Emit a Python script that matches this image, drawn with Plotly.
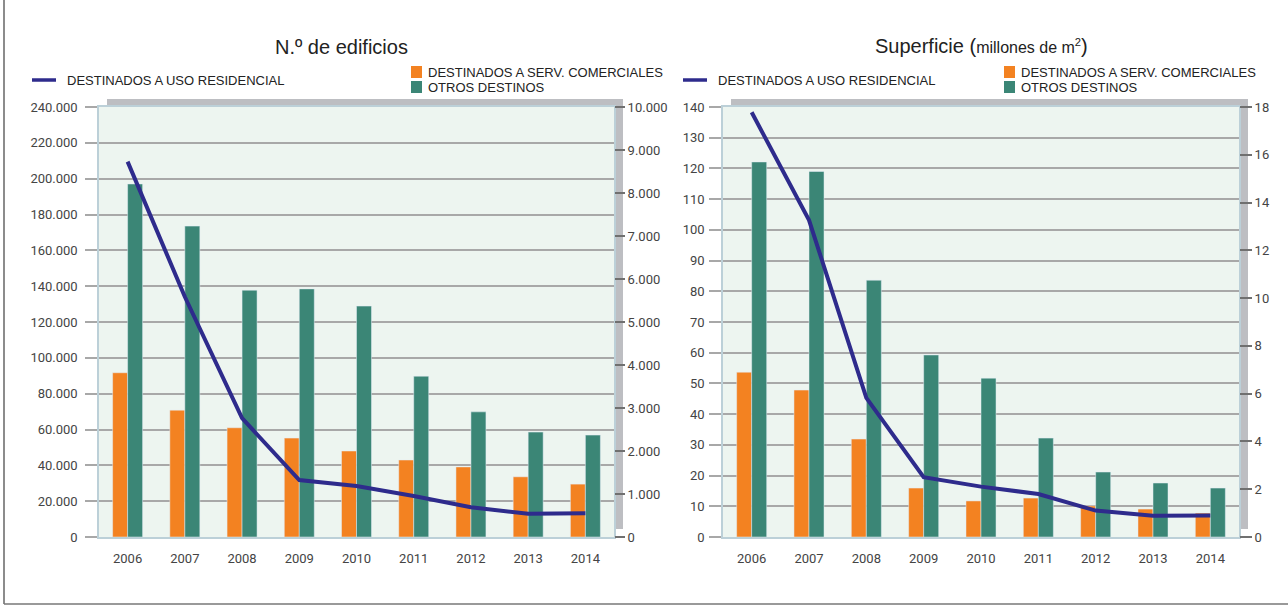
import plotly.graph_objects as go

# ---------------- data ----------------
years = ["2006", "2007", "2008", "2009", "2010", "2011", "2012", "2013", "2014"]

# N.º de edificios
edif_residencial = [209500, 134100, 66300, 31800, 28500, 22900, 16600, 13000, 13200]
edif_comerciales = [3820, 2950, 2540, 2300, 2000, 1790, 1630, 1400, 1230]
edif_otros = [8210, 7230, 5740, 5770, 5370, 3740, 2910, 2440, 2370]

# Superficie (millones de m2)
sup_residencial = [138.3, 103.2, 45.3, 19.5, 16.4, 14.0, 8.6, 6.9, 7.0]
sup_comerciales = [6.9, 6.15, 4.1, 2.05, 1.51, 1.63, 1.30, 1.17, 1.0]
sup_otros = [15.7, 15.3, 10.75, 7.62, 6.65, 4.14, 2.72, 2.26, 2.05]

edif_left_ticks = list(range(0, 240001, 20000))
edif_right_ticks = list(range(0, 10001, 1000))
sup_left_ticks = list(range(0, 141, 10))
sup_right_ticks = list(range(0, 19, 2))

title_left = "N.º de edificios"
title_right = "Superficie (<span style='font-size:16px'>millones de m<sup>2</sup></span>)"
lbl_res = "DESTINADOS A USO RESIDENCIAL"
lbl_com = "DESTINADOS A SERV. COMERCIALES"
lbl_otr = "OTROS DESTINOS"

# ---------------- style ----------------
W, H = 1288, 606
C_LINE = "#2E2B8C"
C_ORANGE = "#F38221"
C_GREEN = "#3B8676"
C_BG = "#EDF5F0"
C_GRID = "#A8A8A8"
C_BORDER = "#BCD0D8"
C_SHADOW = "#BDBEC2"
TICKFONT = dict(family="Roboto, Liberation Sans, sans-serif", size=13, color="#444444")
TXTFONT = dict(family="Liberation Sans, Arial, sans-serif", size=13, color="#222222")


def px(x):
    return x / W


def py(y):
    return 1 - y / H


PLOT_TOP, PLOT_BOT = 107, 537
L_X0, L_X1 = 99, 614
R_X0, R_X1 = 723, 1239

fig = go.Figure()

# left subplot: bars on y (right side), line on y2 (left side, overlaying)
fig.add_trace(go.Bar(x=years, y=edif_comerciales, marker_color=C_ORANGE, name=lbl_com,
                     xaxis="x", yaxis="y", showlegend=False))
fig.add_trace(go.Bar(x=years, y=edif_otros, marker_color=C_GREEN, name=lbl_otr,
                     xaxis="x", yaxis="y", showlegend=False))
fig.add_trace(go.Scatter(x=years, y=edif_residencial, mode="lines", name=lbl_res,
                         line=dict(color=C_LINE, width=4), xaxis="x", yaxis="y2",
                         showlegend=False))

# right subplot: bars on y3 (right side), line on y4 (left side, overlaying)
fig.add_trace(go.Bar(x=years, y=sup_comerciales, marker_color=C_ORANGE, name=lbl_com,
                     xaxis="x2", yaxis="y3", showlegend=False))
fig.add_trace(go.Bar(x=years, y=sup_otros, marker_color=C_GREEN, name=lbl_otr,
                     xaxis="x2", yaxis="y3", showlegend=False))
fig.add_trace(go.Scatter(x=years, y=sup_residencial, mode="lines", name=lbl_res,
                         line=dict(color=C_LINE, width=4), xaxis="x2", yaxis="y4",
                         showlegend=False))

ydom = [py(PLOT_BOT), py(PLOT_TOP)]

xcommon = dict(type="category", range=[-0.5, 8.5], showline=True, mirror=True,
               linecolor=C_BORDER, linewidth=1.5, ticks="outside", ticklen=9,
               tickcolor="rgba(0,0,0,0)", tickfont=TICKFONT, showgrid=False,
               zeroline=False, fixedrange=True)

right_common = dict(side="right", showgrid=False, zeroline=False, ticks="outside",
                    tickcolor="#707070", tickwidth=1.5, tickfont=TICKFONT,
                    showline=False, tickformat=",d", fixedrange=True)
left_common = dict(side="left", showgrid=True, gridcolor=C_GRID, gridwidth=1.5,
                   zeroline=False, ticks="outside", ticklen=12, tickcolor=C_GRID,
                   tickwidth=1.5, tickfont=TICKFONT, showline=True, mirror=True,
                   linecolor=C_BORDER, linewidth=1.5, tickformat=",d", fixedrange=True)

fig.update_layout(
    width=W, height=H,
    margin=dict(l=0, r=0, t=0, b=0, autoexpand=False),
    paper_bgcolor="white",
    plot_bgcolor="rgba(0,0,0,0)",
    separators=",.",
    barmode="group", bargap=0.476, bargroupgap=0,
    showlegend=False,
    xaxis=dict(domain=[px(L_X0), px(L_X1)], anchor="y", **xcommon),
    yaxis=dict(domain=ydom, anchor="x", range=[0, 10000], tickvals=edif_right_ticks,
               ticklen=10, **right_common),
    yaxis2=dict(overlaying="y", anchor="x", range=[0, 240000], tickvals=edif_left_ticks,
                ticklabelstandoff=5, **left_common),
    xaxis2=dict(domain=[px(R_X0), px(R_X1)], anchor="y3", **xcommon),
    yaxis3=dict(domain=ydom, anchor="x2", range=[0, 18], tickvals=sup_right_ticks,
                ticklen=12, **right_common),
    yaxis4=dict(overlaying="y3", anchor="x2", range=[0, 140], tickvals=sup_left_ticks,
                ticklabelstandoff=2, **left_common),
)

shapes = []
# shadow panels behind the plot areas, then the light plot background on top
for x0, x1 in [(L_X0, L_X1), (R_X0, R_X1)]:
    shapes.append(dict(type="rect", xref="paper", yref="paper", layer="below",
                       x0=px(x0 + 8), x1=px(x1 + 9), y0=py(PLOT_BOT - 8), y1=py(PLOT_TOP - 8),
                       fillcolor=C_SHADOW, line=dict(width=0)))
    shapes.append(dict(type="rect", xref="paper", yref="paper", layer="below",
                       x0=px(x0), x1=px(x1), y0=py(PLOT_BOT), y1=py(PLOT_TOP),
                       fillcolor=C_BG, line=dict(width=0)))
# outer frame (left and bottom)
shapes.append(dict(type="line", xref="paper", yref="paper", x0=px(4), x1=px(4),
                   y0=py(604), y1=1, line=dict(color="#666666", width=1.5)))
shapes.append(dict(type="line", xref="paper", yref="paper", x0=px(4), x1=1,
                   y0=py(604), y1=py(604), line=dict(color="#777777", width=1.5)))

annotations = []
annotations.append(dict(xref="paper", yref="paper", x=px(341), y=py(47), text=title_left,
                        showarrow=False, xanchor="center", yanchor="middle",
                        font=dict(family="Liberation Sans, Arial, sans-serif", size=20,
                                  color="#222222")))
annotations.append(dict(xref="paper", yref="paper", x=px(981), y=py(46), text=title_right,
                        showarrow=False, xanchor="center", yanchor="middle",
                        font=dict(family="Liberation Sans, Arial, sans-serif", size=20,
                                  color="#222222")))

# legends
for lx, bx in [(32, 411), (683, 1004)]:
    shapes.append(dict(type="line", xref="paper", yref="paper", x0=px(lx), x1=px(lx + 24),
                       y0=py(80), y1=py(80), line=dict(color=C_LINE, width=3.5)))
    annotations.append(dict(xref="paper", yref="paper", x=px(lx + 33), y=py(80),
                            text=lbl_res, showarrow=False, xanchor="left",
                            yanchor="middle", font=TXTFONT))
    shapes.append(dict(type="rect", xref="paper", yref="paper", x0=px(bx), x1=px(bx + 11),
                       y0=py(78), y1=py(66), fillcolor=C_ORANGE, line=dict(width=0)))
    shapes.append(dict(type="rect", xref="paper", yref="paper", x0=px(bx), x1=px(bx + 11),
                       y0=py(93), y1=py(81), fillcolor=C_GREEN, line=dict(width=0)))
    annotations.append(dict(xref="paper", yref="paper", x=px(bx + 15), y=py(72),
                            text=lbl_com, showarrow=False, xanchor="left",
                            yanchor="middle", font=TXTFONT))
    annotations.append(dict(xref="paper", yref="paper", x=px(bx + 15), y=py(87.5),
                            text=lbl_otr, showarrow=False, xanchor="left",
                            yanchor="middle", font=TXTFONT))

fig.update_layout(shapes=shapes, annotations=annotations)

fig.write_html("out.html", config={"displayModeBar": False},
               post_script="document.body.style.margin='0';")
